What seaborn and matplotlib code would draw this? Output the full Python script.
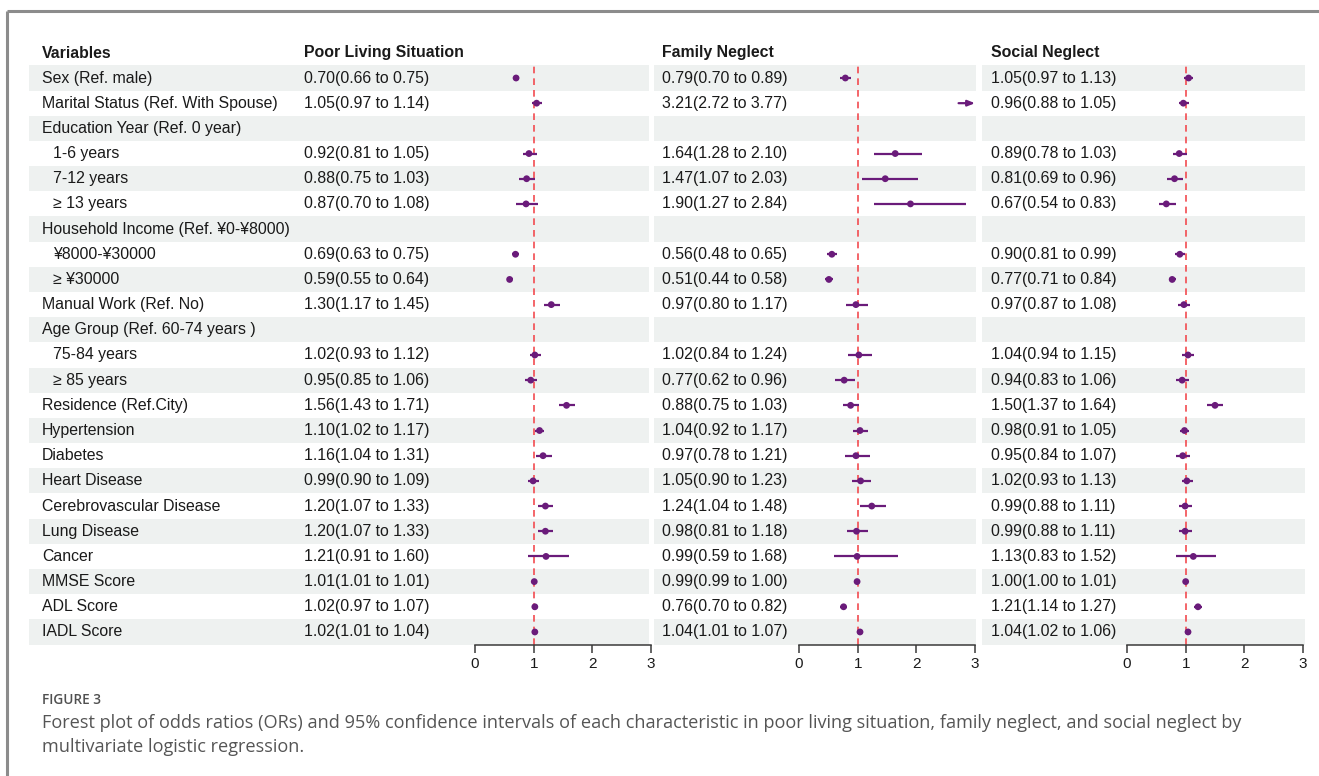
import matplotlib
matplotlib.use("Agg")
import matplotlib.pyplot as plt
import seaborn as sns
import numpy as np

# ---- table contents -------------------------------------------------------
variables = [
    "Sex (Ref. male)", "Marital Status (Ref. With Spouse)", "Education Year (Ref. 0 year)",
    "1-6 years", "7-12 years", "\u2265 13 years", "Household Income (Ref. \u00a50-\u00a58000)",
    "\u00a58000-\u00a530000", "\u2265 \u00a530000", "Manual Work (Ref. No)",
    "Age Group (Ref. 60-74 years )", "75-84 years", "\u2265 85 years", "Residence (Ref.City)",
    "Hypertension", "Diabetes", "Heart Disease", "Cerebrovascular Disease", "Lung Disease",
    "Cancer", "MMSE Score", "ADL Score", "IADL Score",
]
# sub-levels are indented under their group header
indented = [False, False, False, True, True, True, False, True, True, False,
            False, True, True, False, False, False, False, False, False, False,
            False, False, False]

outcomes = ["Poor Living Situation", "Family Neglect", "Social Neglect"]

nan = np.nan
pls_or = [0.70, 1.05, nan, 0.92, 0.88, 0.87, nan, 0.69, 0.59, 1.30, nan, 1.02, 0.95, 1.56,
          1.10, 1.16, 0.99, 1.20, 1.20, 1.21, 1.01, 1.02, 1.02]
pls_lo = [0.66, 0.97, nan, 0.81, 0.75, 0.70, nan, 0.63, 0.55, 1.17, nan, 0.93, 0.85, 1.43,
          1.02, 1.04, 0.90, 1.07, 1.07, 0.91, 1.01, 0.97, 1.01]
pls_hi = [0.75, 1.14, nan, 1.05, 1.03, 1.08, nan, 0.75, 0.64, 1.45, nan, 1.12, 1.06, 1.71,
          1.17, 1.31, 1.09, 1.33, 1.33, 1.60, 1.01, 1.07, 1.04]

fn_or = [0.79, 3.21, nan, 1.64, 1.47, 1.90, nan, 0.56, 0.51, 0.97, nan, 1.02, 0.77, 0.88,
         1.04, 0.97, 1.05, 1.24, 0.98, 0.99, 0.99, 0.76, 1.04]
fn_lo = [0.70, 2.72, nan, 1.28, 1.07, 1.27, nan, 0.48, 0.44, 0.80, nan, 0.84, 0.62, 0.75,
         0.92, 0.78, 0.90, 1.04, 0.81, 0.59, 0.99, 0.70, 1.01]
fn_hi = [0.89, 3.77, nan, 2.10, 2.03, 2.84, nan, 0.65, 0.58, 1.17, nan, 1.24, 0.96, 1.03,
         1.17, 1.21, 1.23, 1.48, 1.18, 1.68, 1.00, 0.82, 1.07]

sn_or = [1.05, 0.96, nan, 0.89, 0.81, 0.67, nan, 0.90, 0.77, 0.97, nan, 1.04, 0.94, 1.50,
         0.98, 0.95, 1.02, 0.99, 0.99, 1.13, 1.00, 1.21, 1.04]
sn_lo = [0.97, 0.88, nan, 0.78, 0.69, 0.54, nan, 0.81, 0.71, 0.87, nan, 0.94, 0.83, 1.37,
         0.91, 0.84, 0.93, 0.88, 0.88, 0.83, 1.00, 1.14, 1.02]
sn_hi = [1.13, 1.05, nan, 1.03, 0.96, 0.83, nan, 0.99, 0.84, 1.08, nan, 1.15, 1.06, 1.64,
         1.05, 1.07, 1.13, 1.11, 1.11, 1.52, 1.01, 1.27, 1.06]

axis_ticks = [0, 1, 2, 3]

caption_title = "FIGURE 3"
caption_lines = [
    "Forest plot of odds ratios (ORs) and 95% confidence intervals of each characteristic in poor living situation, family neglect, and social neglect by",
    "multivariate logistic regression.",
]

# ---- style ----------------------------------------------------------------
sns.set_theme(style="white")
plt.rcParams["font.family"] = ["Liberation Sans", "DejaVu Sans"]

W, H = 1319, 776
PURPLE = "#6A1B7A"
RED = "#F24B50"
BAND = "#EEF1F0"
INK = "#1A1A1A"
FS = 11.4

fig = plt.figure(figsize=(W / 100, H / 100), dpi=100)
fig.patch.set_facecolor("white")

# background layer in pixel coordinates
bg = fig.add_axes([0, 0, 1, 1])
bg.set_xlim(0, W)
bg.set_ylim(H, 0)
bg.axis("off")

# panel frame (top and left edges)
bg.plot([7, 7], [11, H], color="#8C8C8C", lw=2.2, solid_capstyle="butt")
bg.plot([7, W], [11, 11], color="#8C8C8C", lw=2.2, solid_capstyle="butt")

n = len(variables)
row0, step = 78.0, 25.18
row_y = row0 + step * np.arange(n)
top = row0 - step / 2
bottom = row0 + step * (n - 1) + step / 2

# zebra bands for each block
blocks = [(29, 649), (654, 976), (982, 1305)]
for i in range(n):
    if i % 2 == 0:
        for x0, x1 in blocks:
            bg.add_patch(plt.Rectangle((x0, row_y[i] - step / 2), x1 - x0, step,
                                       facecolor=BAND, edgecolor="none", zorder=0))

# header row
head_y = 53
bg.text(42, head_y, "Variables", fontsize=FS, fontweight="bold", color=INK, va="center")
text_x = [304, 662, 991]
for tx, name in zip(text_x, outcomes):
    bg.text(tx, head_y, name, fontsize=FS, fontweight="bold", color=INK, va="center")

# variable names
for i, v in enumerate(variables):
    bg.text(53 if indented[i] else 42, row_y[i], v, fontsize=FS, color=INK, va="center")

# OR (95% CI) labels
series = [(pls_or, pls_lo, pls_hi), (fn_or, fn_lo, fn_hi), (sn_or, sn_lo, sn_hi)]
for tx, (o, lo, hi) in zip(text_x, series):
    for i in range(n):
        if not np.isnan(o[i]):
            bg.text(tx, row_y[i], f"{o[i]:.2f}({lo[i]:.2f} to {hi[i]:.2f})",
                    fontsize=FS, color=INK, va="center")

# ---- forest panels ----------------------------------------------------------
axis_x = [(475, 651), (799, 975), (1127, 1303)]
for (x0, x1), (o, lo, hi) in zip(axis_x, series):
    ax = fig.add_axes([x0 / W, 1 - bottom / H, (x1 - x0) / W, (bottom - top) / H])
    ax.patch.set_alpha(0)
    xmin, xmax = axis_ticks[0], axis_ticks[-1]
    ax.set_xlim(xmin, xmax)
    ax.set_ylim(n - 0.5, -0.5)

    ax.axvline(1, color=RED, lw=1.2, ls=(0, (4, 3)), zorder=1)

    o = np.array(o)
    lo = np.array(lo)
    hi = np.array(hi)
    rows = np.arange(n)
    ok = ~np.isnan(o)
    inside = ok & (o <= xmax)
    for i in rows[ok]:
        if hi[i] > xmax:
            # interval runs past the axis: cut it at the edge with an arrow
            ax.annotate("", xy=(xmax, i), xytext=(lo[i], i),
                        arrowprops=dict(arrowstyle="-|>,head_length=0.35,head_width=0.14",
                                        color=PURPLE, lw=1.6, shrinkA=0, shrinkB=0),
                        annotation_clip=False)
        else:
            ax.plot([lo[i], hi[i]], [i, i], color=PURPLE, lw=1.6,
                    solid_capstyle="butt", zorder=2)
    sns.scatterplot(x=o[inside], y=rows[inside], ax=ax, color=PURPLE, s=24,
                    edgecolor="none", zorder=3, legend=False)

    for s in ["top", "right", "left"]:
        ax.spines[s].set_visible(False)
    ax.spines["bottom"].set_color("#3A3A3A")
    ax.spines["bottom"].set_linewidth(1.1)
    ax.set_yticks([])
    ax.set_xticks(axis_ticks)
    ax.set_xticklabels([str(t) for t in axis_ticks])
    ax.tick_params(axis="x", direction="out", length=6, width=1.1, color="#3A3A3A",
                   labelsize=FS - 0.4, labelcolor=INK, pad=3, bottom=True)
    ax.set_xlabel("")
    ax.set_ylabel("")

# ---- caption ----------------------------------------------------------------
bg.text(42, 700, caption_title, fontsize=9.8, family=["Open Sans", "DejaVu Sans"],
        fontweight="semibold", color="#505050", va="center")
for k, line in enumerate(caption_lines):
    bg.text(42, 723 + 24 * k, line, fontsize=13.1, family=["Open Sans", "DejaVu Sans"],
            color="#555555", va="center")

fig.savefig("out.png", dpi=100, facecolor="white")
